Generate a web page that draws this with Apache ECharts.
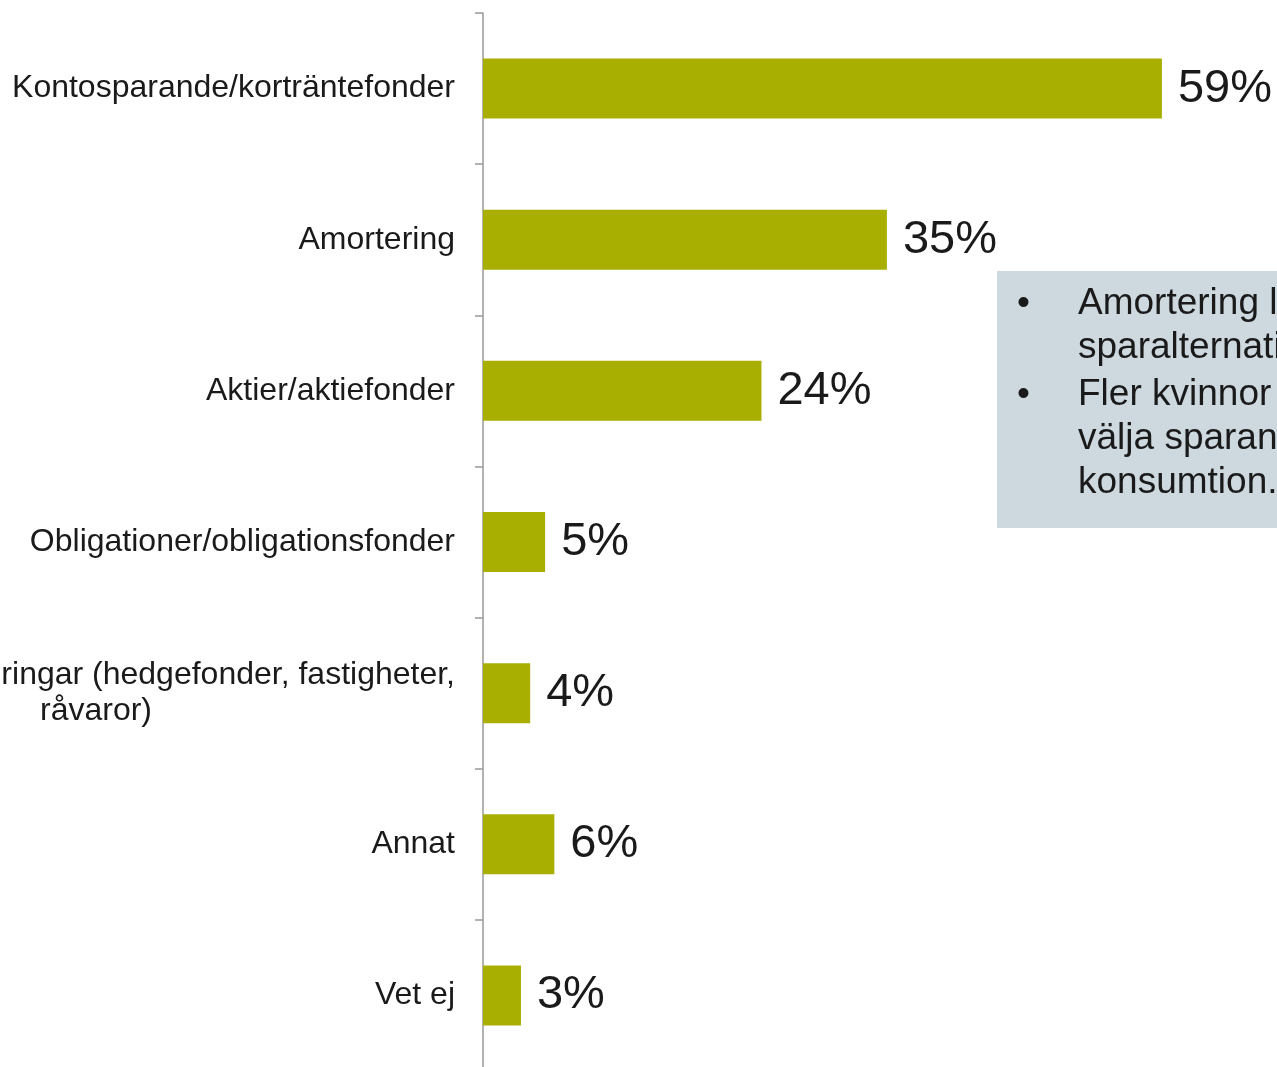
<!DOCTYPE html>
<html>
<head>
<meta charset="utf-8">
<script src="https://cdn.jsdelivr.net/npm/echarts@6/dist/echarts.min.js"></script>
<style>
  html, body { margin: 0; padding: 0; background: #fff; }
  #main { width: 1277px; height: 1067px; }
</style>
</head>
<body>
<div id="main"></div>
<script>
var categories = [
    'Kontosparande/korträntefonder',
    'Amortering',
    'Aktier/aktiefonder',
    'Obligationer/obligationsfonder',
    'Alternativa investeringar (hedgefonder, fastigheter,\nråvaror)',
    'Annat',
    'Vet ej'
];
var values = [59, 35.1, 24.2, 5.4, 4.1, 6.2, 3.3];
var noteLines = [
    ['Amortering lockar mer än andra', 'sparalternativ.'],
    ['Fler kvinnor än män väljer att', 'välja sparande framför', 'konsumtion.']
];

var font = '"Liberation Sans", Arial, sans-serif';

// textbox to the right (cropped by the edge)
var note = [{
    type: 'rect',
    shape: {x: 997, y: 271, width: 300, height: 257},
    style: {fill: '#cdd8df'}
}];
var y = 304;
noteLines.forEach(function (para) {
    note.push({
        type: 'text', x: 1017, y: y,
        style: {text: '•', font: '37px ' + font, fill: '#1a1a1a', verticalAlign: 'middle'}
    });
    para.forEach(function (line) {
        note.push({
            type: 'text', x: 1078, y: y,
            style: {text: line, font: '37px ' + font, fill: '#1a1a1a', verticalAlign: 'middle'}
        });
        y += 44;
    });
    y += 3;
});

var myChart = echarts.init(document.getElementById('main'));
myChart.setOption({
    backgroundColor: '#ffffff',
    animation: false,
    grid: {left: 483, right: 0, top: 13, height: 1058, containLabel: false, outerBoundsMode: 'none'},
    xAxis: {type: 'value', min: 0, max: 69, show: false},
    yAxis: {
        type: 'category',
        inverse: true,
        data: categories,
        axisLine: {lineStyle: {color: '#999999', width: 1.5}},
        axisTick: {show: true, length: 8, lineStyle: {color: '#999999', width: 1.5}},
        axisLabel: {
            margin: 28,
            color: '#1a1a1a',
            fontFamily: font,
            fontSize: 32,
            lineHeight: 36,
            formatter: function (v) {
                var parts = v.split('\n');
                if (parts.length < 2) return v;
                return parts[0] + '\n{c|' + parts[1] + '}';
            },
            rich: {c: {width: 718, align: 'center', fontSize: 32, fontFamily: font, color: '#1a1a1a', lineHeight: 36}}
        }
    },
    series: [{
        type: 'bar',
        data: values,
        barWidth: 60,
        itemStyle: {color: '#a9af00'},
        label: {
            show: true,
            position: 'right',
            distance: 16,
            fontFamily: font,
            fontSize: 47,
            color: '#1a1a1a',
            formatter: function (p) { return Math.round(p.value) + '%'; }
        }
    }],
    graphic: note
});
</script>
</body>
</html>
